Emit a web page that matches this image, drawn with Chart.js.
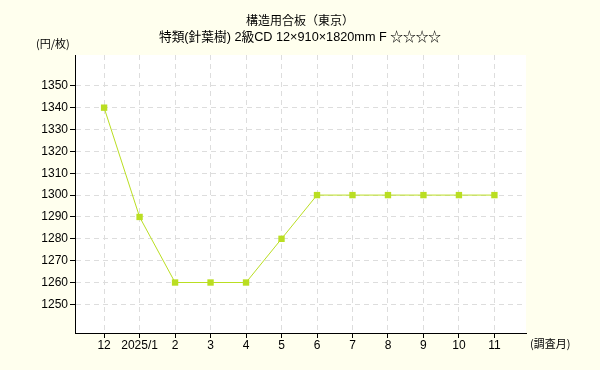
<!DOCTYPE html>
<html>
<head>
<meta charset="utf-8">
<script src="https://cdn.jsdelivr.net/npm/chart.js@4"></script>
<style>
  html, body { margin: 0; padding: 0; background: #ffffee; }
  canvas { display: block; }
</style>
</head>
<body>
<canvas id="priceChart" width="600" height="370"></canvas>
<script>
// ── Data ──────────────────────────────────────────────────
const monthLabels = ['12', '2025/1', '2', '3', '4', '5', '6', '7', '8', '9', '10', '11'];
const prices = [1340, 1290, 1260, 1260, 1260, 1280, 1300, 1300, 1300, 1300, 1300, 1300];
const yTicks = [1250, 1260, 1270, 1280, 1290, 1300, 1310, 1320, 1330, 1340, 1350];

const titleLines = ['構造用合板（東京）', '特類(針葉樹) 2級CD 12×910×1820mm F ☆☆☆☆'];
const yUnit = '(円/枚)';
const xUnit = '(調査月)';

// ── Style ─────────────────────────────────────────────────
const LINE = '#bade22';
const GRID = '#dddddd';
const PAGE_BG = '#ffffee';
const FONT = "'Liberation Sans', 'Noto Sans CJK JP', sans-serif";
const JP_FONT = "'Noto Sans CJK JP', sans-serif";

const backdrop = {
  id: 'backdrop',
  beforeDraw(chart) {
    const { ctx, chartArea: a } = chart;
    ctx.save();
    ctx.fillStyle = PAGE_BG;
    ctx.fillRect(0, 0, chart.width, chart.height);
    ctx.fillStyle = '#ffffff';
    ctx.fillRect(a.left, a.top, a.right - a.left, a.bottom - a.top);
    ctx.restore();
  },
  afterDraw(chart) {
    const { ctx } = chart;
    ctx.save();
    ctx.fillStyle = '#000';
    ctx.textBaseline = 'middle';
    ctx.textAlign = 'center';
    ctx.font = '12px ' + JP_FONT;
    ctx.fillText(titleLines[0], 300, 20);
    ctx.font = '12.7px ' + FONT;
    ctx.fillText(titleLines[1], 300, 37);
    ctx.font = '11px ' + JP_FONT;
    ctx.textAlign = 'left';
    ctx.fillText(yUnit, 36, 44);
    ctx.fillText(xUnit, 530, 344);
    ctx.restore();
  }
};

new Chart(document.getElementById('priceChart'), {
  type: 'line',
  data: {
    datasets: [{
      data: prices.map((v, i) => ({ x: i, y: v })),
      borderColor: LINE,
      backgroundColor: LINE,
      borderWidth: 1,
      pointStyle: 'rect',
      pointRadius: 4.5,
      pointBorderWidth: 0,
      tension: 0,
    }],
  },
  options: {
    responsive: false,
    animation: false,
    layout: { padding: { top: 55, right: 74, left: 0, bottom: 0 } },
    plugins: { legend: { display: false }, tooltip: { enabled: false } },
    scales: {
      x: {
        type: 'linear',
        min: -0.82,
        max: 11.89,
        afterBuildTicks: s => { s.ticks = monthLabels.map((_, i) => ({ value: i })); },
        afterFit: s => { s.height = 37; },
        grid: { color: GRID, tickColor: '#000', tickLength: 5 },
        border: { color: '#000', width: 1, dash: [5, 4] },
        ticks: {
          color: '#000',
          font: { family: FONT, size: 12 },
          padding: 0,
          maxRotation: 0,
          autoSkip: false,
          callback: v => monthLabels[v],
        },
      },
      y: {
        min: 1236.9,
        max: 1364.1,
        afterBuildTicks: s => { s.ticks = yTicks.map(v => ({ value: v })); },
        afterFit: s => { s.width = 75; },
        grid: { color: GRID, tickColor: '#000', tickLength: 5 },
        border: { color: '#000', width: 1, dash: [5, 4] },
        ticks: {
          color: '#000',
          font: { family: FONT, size: 12 },
          padding: 2,
          callback: v => String(v),
        },
      },
    },
  },
  plugins: [backdrop],
});
</script>
</body>
</html>
